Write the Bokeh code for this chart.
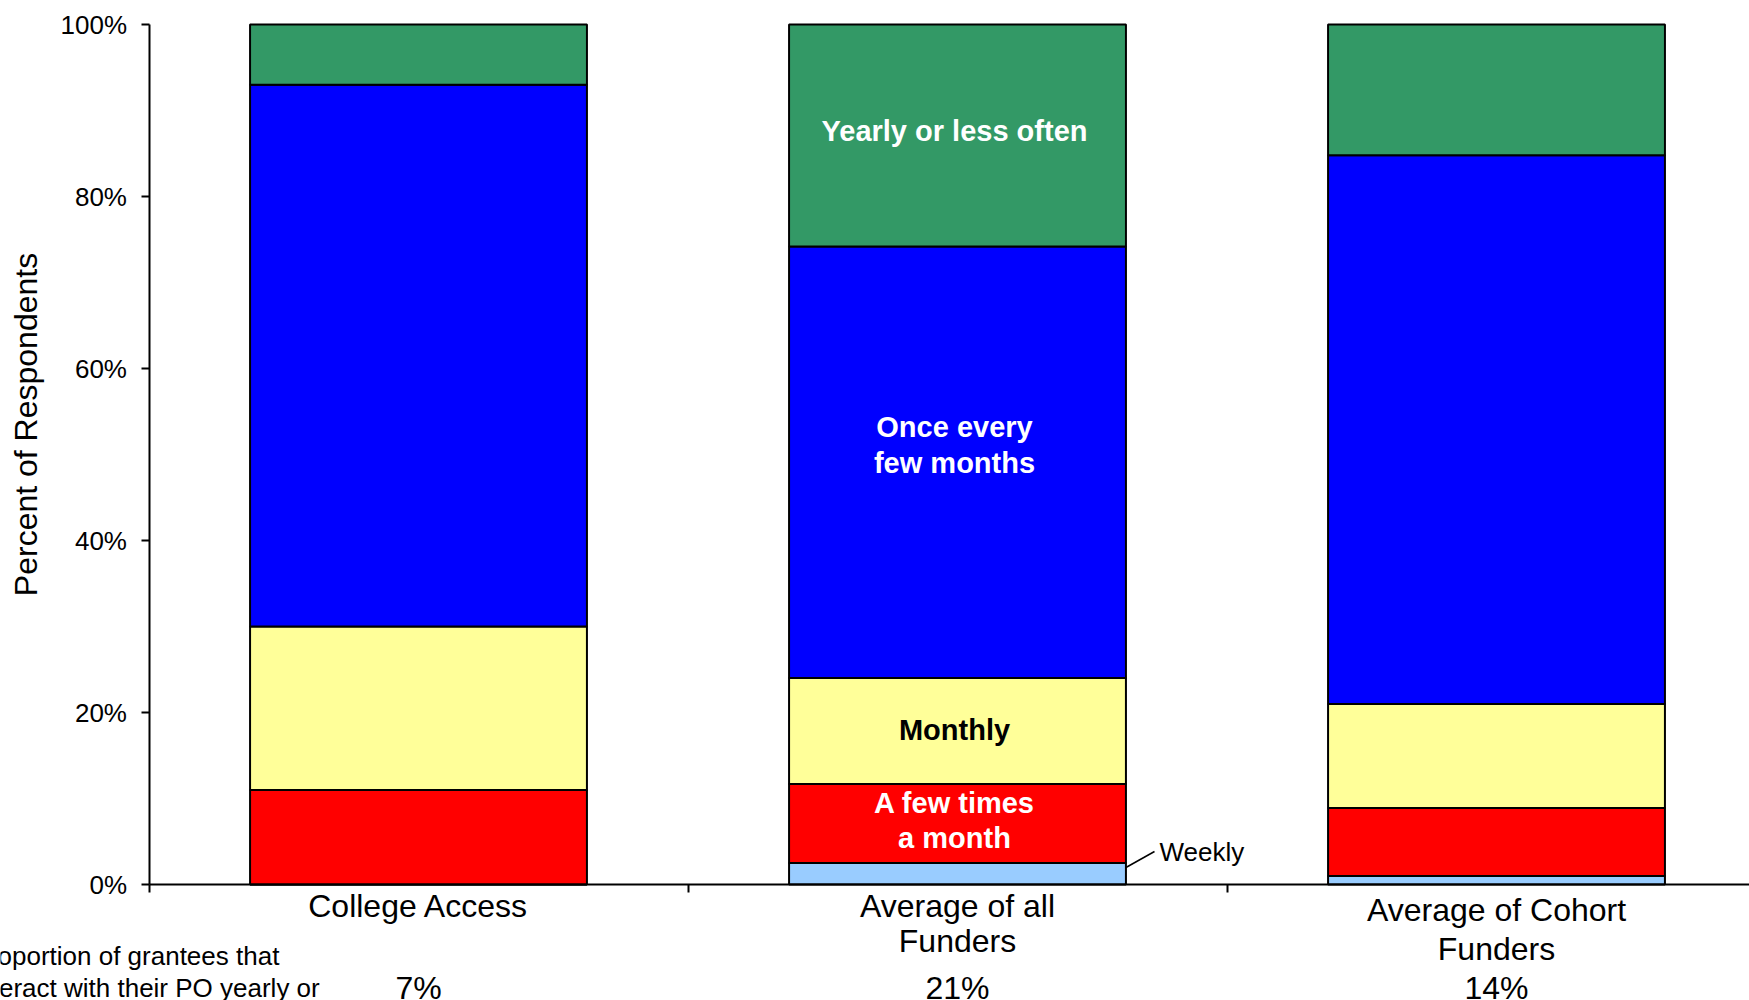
import math
from bokeh.plotting import figure
from bokeh.models import ColumnDataSource, Range1d, FixedTicker, PrintfTickFormatter, Label
from bokeh.core.properties import value
from bokeh.embed import file_html
from bokeh.resources import INLINE

# ---- data ----
categories = ["College Access", "Average of all\nFunders", "Average of Cohort\nFunders"]
summary_labels = ["7%", "21%", "14%"]
series = ["Weekly", "A few times\na month", "Monthly", "Once every\nfew months", "Yearly or less often"]
weekly = [0.0, 2.5, 1.0]
few_times = [11.0, 9.2, 7.9]
monthly = [19.0, 12.3, 12.1]
few_months = [63.0, 50.2, 63.8]
yearly = [7.0, 25.8, 15.2]
y_ticks = [0, 20, 40, 60, 80, 100]
desc = ["Proportion of grantees that", "interact with their PO yearly or", "less often"]

# ---- style / layout ----
FONT = "Liberation Sans"
colors = ["#99CCFF", "#FF0000", "#FFFF99", "#0000FF", "#339966"]
keys = ["weekly", "few_times", "monthly", "few_months", "yearly"]
xs = [i + 0.5 for i in range(len(categories))]

W, H = 1749, 1000
X0_PX, Y0_PX, Y100_PX = 148.5, 884.0, 24.0   # pixel of x=0, y=0, y=100
CAT_PX = 539.0
PX_PER_Y = (Y0_PX - Y100_PX) / 100.0

def dx(px):
    return (px - X0_PX) / CAT_PX

def dy(py):
    return (Y0_PX - py) / PX_PER_Y

src = ColumnDataSource(dict(x=xs, weekly=weekly, few_times=few_times, monthly=monthly,
                            few_months=few_months, yearly=yearly))

p = figure(width=W, height=H, x_range=Range1d(dx(0), dx(W)), y_range=Range1d(dy(H), dy(0)),
           output_backend="svg", toolbar_location=None,
           min_border_left=0, min_border_right=0, min_border_top=0, min_border_bottom=0)
p.outline_line_color = None
p.xgrid.visible = False
p.ygrid.visible = False
p.background_fill_color = "white"
p.border_fill_color = "white"

p.vbar_stack(keys, x="x", width=0.625, source=src, color=colors,
             line_color="black", line_width=2)

# y axis
ya = p.yaxis[0]
ya.fixed_location = 0
ya.bounds = (0, 100)
ya.ticker = FixedTicker(ticks=y_ticks)
ya.formatter = PrintfTickFormatter(format="%d%%")
ya.major_label_text_font = FONT
ya.major_label_text_font_size = "26px"
ya.major_label_text_color = "black"
ya.major_label_standoff = 14
ya.major_tick_out = 8
ya.major_tick_in = 0
ya.minor_tick_out = 0
ya.minor_tick_in = 0
ya.axis_line_width = 2
ya.major_tick_line_width = 2

# x axis (category boundaries, no tick labels)
xa = p.xaxis[0]
xa.fixed_location = 0
xa.bounds = (0, 3)
xa.ticker = FixedTicker(ticks=[0, 1, 2, 3])
xa.major_label_overrides = {0: "", 1: "", 2: "", 3: ""}
xa.major_tick_out = 8
xa.major_tick_in = 0
xa.minor_tick_out = 0
xa.minor_tick_in = 0
xa.axis_line_width = 2
xa.major_tick_line_width = 2

# y axis title
p.add_layout(Label(x=dx(25), y=dy(424), text="Percent of Respondents", angle=math.pi / 2,
                   text_font=FONT, text_font_size="32px", text_color="black",
                   text_align="center", text_baseline="middle"))

# in-bar labels for middle bar
stacks = [weekly, few_times, monthly, few_months, yearly]
label_offsets = [0, 0.3, 0.15, 2.0, 0.5]
label_colors = [None, "white", "black", "white", "white"]
mid = 1
cum = 0.0
for i, s in enumerate(stacks):
    v = s[mid]
    if i > 0:
        p.text(x=[xs[mid] - 3 / CAT_PX], y=[cum + v / 2 + label_offsets[i]], text=[series[i]],
               text_font=value(FONT), text_font_size="29px", text_font_style="bold",
               text_color=label_colors[i], text_align="center", text_baseline="middle",
               text_line_height=1.1)
    cum += v

# Weekly callout
bar_right = xs[mid] + 0.625 / 2
p.segment(x0=[bar_right], y0=[dy(867)], x1=[dx(1154)], y1=[dy(851)],
          line_color="black", line_width=1.5)
p.add_layout(Label(x=dx(1159), y=dy(851), text=series[0],
                   text_font=FONT, text_font_size="26px", text_color="black",
                   text_align="left", text_baseline="middle"))

# category labels below axis
cat_line_py = [[905], [905, 940], [909, 948]]
for i, c in enumerate(categories):
    for j, line in enumerate(c.split("\n")):
        p.add_layout(Label(x=xs[i], y=dy(cat_line_py[i][j]), text=line,
                           text_font=FONT, text_font_size="32px", text_color="black",
                           text_align="center", text_baseline="middle"))
    p.add_layout(Label(x=xs[i], y=dy(987), text=summary_labels[i],
                       text_font=FONT, text_font_size="32px", text_color="black",
                       text_align="center", text_baseline="middle"))

# summary row description
for j, line in enumerate(desc):
    p.add_layout(Label(x=dx(-29), y=dy(955 + 32 * j), text=line,
                       text_font=FONT, text_font_size="26px", text_color="black",
                       text_align="left", text_baseline="middle"))

open("out.html", "w").write(file_html(p, INLINE))
